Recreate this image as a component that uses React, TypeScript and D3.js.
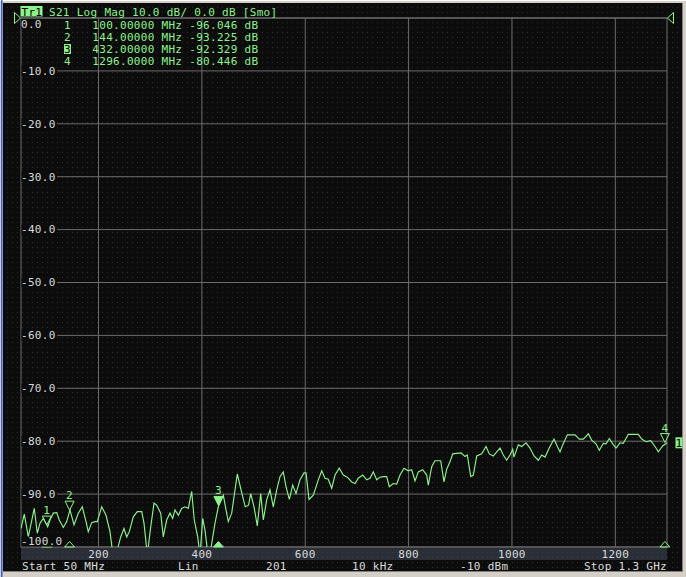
import React from "react";
import * as d3 from "d3";

// ---- data ----
const traceFreqMHz = [50,56.4,64.1,75.7,81.5,86.8,93.2,101.7,106.1,112.5,119.1,124.1,131.9,138.4,144.8,152.6,160.9,168.6,175.8,180.2,186.8,193.2,197.6,206.2,214.5,222.2,228.6,235.2,242.9,249.3,254.5,259.6,267.3,275.0,283.6,288.0,294.4,301.0,307.4,312.6,320.3,325.3,331.9,338.3,343.5,348.0,354.4,360.9,367.3,373.7,380.3,385.3,391.9,396.4,401.6,406.0,412.4,417.1,425.4,431.8,441.5,446.7,451.1,457.7,468.5,477.5,483.9,490.3,494.5,500.9,507.2,513.8,518.9,525.4,531.8,538.2,544.8,551.2,557.5,562.8,569.2,575.7,582.1,589.9,597.6,601.5,607.3,615.6,625.3,631.9,638.2,644.6,651.2,657.6,665.9,673.6,681.4,689.9,696.3,702.7,711.2,718.9,725.3,731.7,738.3,744.7,751.1,757.6,762.7,770.4,777.0,783.4,791.1,799.4,806.0,812.4,818.8,827.3,835.0,838.1,844.7,851.1,857.5,862.1,868.5,873.7,880.1,885.3,893.0,901.4,909.1,913.6,920.2,925.2,931.8,941.5,949.8,956.2,963.9,970.5,976.9,983.2,989.8,996.2,1001.4,1003.9,1012.3,1018.9,1027.2,1034.9,1042.7,1051.0,1057.5,1063.9,1073.6,1081.4,1087.8,1093.0,1098.2,1107.1,1115.6,1122.0,1130.3,1138.1,1147.8,1154.3,1162.6,1169.0,1176.8,1182.0,1188.4,1194.9,1201.3,1209.1,1215.4,1225.1,1234.8,1244.5,1251.0,1259.4,1268.4,1276.8,1283.2,1291.7,1300];
const traceDb = [-96.5,-93.8,-98.1,-92.7,-97.4,-95.5,-94.6,-96.2,-94.9,-93.6,-93.5,-94.9,-96.3,-95.2,-93.0,-95.8,-93.6,-92.4,-95.2,-97.1,-95.4,-95.2,-95.2,-92.4,-94.0,-97.1,-102,-101,-98.1,-96.5,-98.1,-97.1,-94.3,-93.3,-93.3,-95.5,-101.5,-96.2,-91.7,-92.1,-93.6,-98.1,-94.9,-93.6,-94.6,-93.0,-94.0,-92.7,-92.4,-92.7,-89.5,-94.9,-98.1,-101.5,-94.6,-96.8,-102,-100.5,-95.5,-92.4,-90.2,-93.0,-95.2,-93.6,-86.2,-89.9,-92.4,-92.1,-89.9,-92.4,-96.0,-89.9,-94.9,-91.1,-89.2,-92.4,-89.2,-86.7,-85.8,-88.6,-91.0,-88.3,-89.9,-87.3,-86.0,-86.0,-91.0,-90.2,-87.3,-85.6,-87.0,-87.2,-88.9,-86.4,-85.1,-86.4,-86.8,-87.7,-88.0,-87.0,-86.4,-87.3,-87.0,-85.8,-87.3,-86.8,-86.7,-86.7,-88.6,-88.0,-88.1,-86.4,-85.1,-85.6,-85.4,-87.5,-85.8,-85.4,-86.4,-88.3,-84.8,-83.7,-83.7,-83.7,-87.7,-85.3,-83.9,-82.4,-82.3,-82.2,-82.9,-82.6,-86.7,-86.4,-82.8,-82.4,-81.0,-82.4,-82.8,-82.0,-81.3,-82.6,-83.6,-82.6,-81.5,-83.0,-80.7,-81.0,-80.3,-81.3,-82.8,-83.6,-82.6,-83.0,-81.0,-79.6,-81.0,-82.0,-80.7,-78.8,-78.8,-78.8,-79.6,-79.6,-78.6,-79.8,-80.5,-81.7,-80.4,-80.5,-79.5,-80.5,-81.3,-80.3,-80.4,-78.7,-78.7,-78.7,-79.6,-80.1,-79.9,-81.0,-82.0,-80.9,-80.3];

const markerIds = ["1", "2", "3", "4"];
const markerFreqMHz = [100, 144, 432, 1296];
const markerFreqText = ["100.00000", "144.00000", "432.00000", "1296.0000"];
const markerDb = [-96.046, -93.225, -92.329, -80.446];
const activeMarker = "3";

const yTicks = [0, -10, -20, -30, -40, -50, -60, -70, -80, -90, -100];
const xTicks = [200, 400, 600, 800, 1000, 1200];
const headerText = "S21 Log Mag 10.0 dB/ 0.0 dB [Smo]";
const footerItems = ["Start 50 MHz", "Lin", "201", "10 kHz", "-10 dBm", "Stop 1.3 GHz"];

const W = 686, H = 577;
const L = 21, R = 667, T = 18, B = 547;
const GREEN = "#8cf28c";
const GRID = "#6c6c6c";
const LABEL = "#dadada";
const FONT = "'DejaVu Sans Mono', monospace";

export default function App() {
  const x = d3.scaleLinear().domain([50, 1300]).range([L, R]);
  const y = d3.scaleLinear().domain([-100, 0]).range([B, T]);
  const pts: [number, number][] = traceFreqMHz.map((f, i) => [f, traceDb[i]]);
  const line = d3.line<[number, number]>().x((d) => x(d[0])).y((d) => y(d[1]));
  const lastDb = traceDb[traceDb.length - 1];
  const charW = 6.92;

  const footerX = [22, 178, 266, 352, 460, 667];

  return (
    <svg width={W} height={H} style={{ position: "absolute", left: 0, top: 0, display: "block" }}
      fontFamily={FONT} fontSize={11} letterSpacing={0.3}>
      <defs>
        <pattern id="dots" width={5} height={5} patternUnits="userSpaceOnUse">
          <rect width={5} height={5} fill="#0c0c0c" />
          <rect x={2} y={2} width={1} height={1} fill="#2c2c2c" />
        </pattern>
        <pattern id="dots2" width={5} height={5} patternUnits="userSpaceOnUse">
          <rect width={5} height={5} fill="#2a2e36" />
          <rect x={2} y={2} width={1} height={1} fill="#3c414b" />
        </pattern>
        <clipPath id="plotClip">
          <rect x={L} y={T} width={R - L} height={B - T} />
        </clipPath>
      </defs>
      {/* window frame */}
      <rect x={0} y={0} width={W} height={H} fill="#d4d0c8" />
      <rect x={0} y={0} width={W} height={1} fill="#ffffff" />
      <rect x={1} y={0} width={1.5} height={H} fill="#3a5fcd" />
      <rect x={3} y={3} width={679} height={568} fill="url(#dots)" />
      <rect x={682} y={3} width={1} height={569} fill="#808080" />
      <rect x={3} y={571} width={680} height={1} fill="#808080" />

      {/* grid */}
      {yTicks.map((v) => (
        <line key={"h" + v} x1={L} x2={R} y1={y(v)} y2={y(v)} stroke={GRID} strokeWidth={1} />
      ))}
      {xTicks.map((v) => (
        <line key={"v" + v} x1={x(v)} x2={x(v)} y1={T} y2={B} stroke={GRID} strokeWidth={1} />
      ))}
      <rect x={L} y={T} width={R - L} height={B - T} fill="none" stroke={GRID} strokeWidth={1} />

      {/* x-axis band */}
      <rect x={L} y={B + 1} width={R - L} height={12} fill="url(#dots2)" />
      {xTicks.map((v) => (
        <text key={"xl" + v} x={x(v)} y={557.5} textAnchor="middle" fill={LABEL}>{v}</text>
      ))}

      {/* trace */}
      <path d={line(pts) || ""} fill="none" stroke={GREEN} strokeWidth={1.15} clipPath="url(#plotClip)" />

      {/* markers on trace */}
      {markerIds.map((id, i) => {
        const mx = x(markerFreqMHz[i]);
        const my = y(markerDb[i]);
        const filled = id === activeMarker;
        return (
          <g key={"m" + id}>
            <path d={`M${mx - 4.5},${my - 10}L${mx + 4.5},${my - 10}L${mx},${my - 1}Z`}
              fill={filled ? GREEN : "none"} stroke={GREEN} strokeWidth={1} />
            <text x={mx} y={my - 12} textAnchor="middle" fill={GREEN}>{id}</text>
            <path d={`M${mx - 5},${B}L${mx + 5},${B}L${mx},${B - 5.5}Z`}
              fill={filled ? GREEN : "none"} stroke={GREEN} strokeWidth={1} />
          </g>
        );
      })}

      {/* y labels */}
      {yTicks.map((v) => {
        const cy = Math.min(Math.max(y(v), 24), 541.5);
        const txt = v.toFixed(1);
        return (
          <g key={"yl" + v}>
            <rect x={L + 0.5} y={cy - 5} width={txt.length * charW + 1} height={10} fill="#0c0c0c" />
            <text x={L} y={cy + 3.8} fill={LABEL}>{txt}</text>
          </g>
        );
      })}

      {/* reference level triangles */}
      <path d={`M14.5,${T - 5.5}L20.5,${T}L14.5,${T + 5.5}Z`} fill="none" stroke={GREEN} strokeWidth={1} />
      <path d={`M673.5,${T - 5.5}L667.5,${T}L673.5,${T + 5.5}Z`} fill="none" stroke={GREEN} strokeWidth={1} />

      {/* trace end tag */}
      <rect x={675.5} y={y(lastDb) - 5.5} width={7} height={11} fill={GREEN} />
      <text x={679} y={y(lastDb) + 4} textAnchor="middle" fill="#000">1</text>

      {/* header */}
      <rect x={20.5} y={6} width={22} height={10.5} fill={GREEN} />
      <text x={21.5} y={15.5} fill="#000">Tr1</text>
      <text x={49} y={15.5} fill={GREEN}>{headerText}</text>

      {/* marker table */}
      {markerIds.map((id, i) => {
        const by = 28.5 + i * 12;
        const active = id === activeMarker;
        return (
          <g key={"t" + id}>
            {active && <rect x={64} y={by - 8.5} width={7} height={10} fill={GREEN} />}
            <text x={67.5} y={by} textAnchor="middle" fill={active ? "#000" : GREEN}>{id}</text>
            <text x={92.3} y={by} fill={GREEN}>
              {`${markerFreqText[i]} MHz ${markerDb[i].toFixed(3)} dB`}
            </text>
          </g>
        );
      })}

      {/* footer */}
      {footerItems.map((s, i) => (
        <text key={"f" + i} x={footerX[i]} y={569.5} textAnchor={i === footerItems.length - 1 ? "end" : "start"} fill={LABEL}>{s}</text>
      ))}
    </svg>
  );
}
